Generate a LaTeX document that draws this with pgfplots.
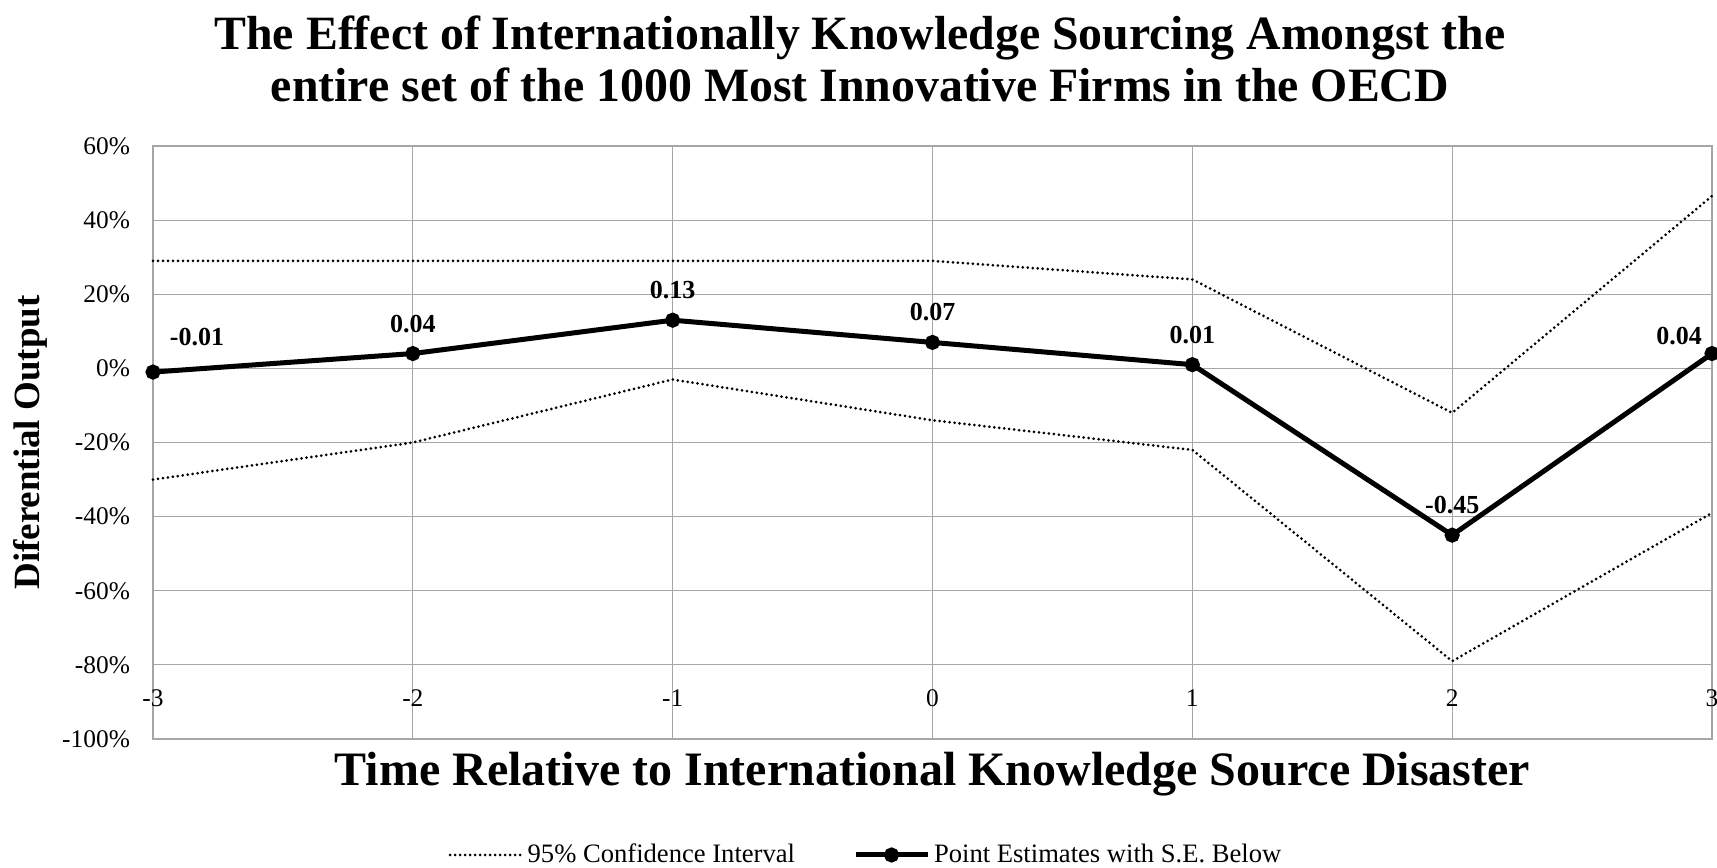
\documentclass[border=0pt]{standalone}
\usepackage{fontspec}
\setmainfont{Liberation Serif}
\usepackage{pgfplots}
\usepackage{pgfplotstable}
\pgfplotsset{compat=1.18}

\definecolor{gridgray}{RGB}{166,166,166}

% 95% confidence bounds (in percent)
\pgfplotstableread{
x upper lower
-3 29 -30
-2 29 -20
-1 29 -3
0 29 -14
1 24 -22
2 -12 -79
3 46.5 -39
}\ci

% point estimates (in percent), their printed values and label offsets (pt)
\pgfplotstableread{
x y lab dx dy
-3 -1 -0.01 22 17.5
-2 4 0.04 0 15
-1 13 0.13 0 15
0 7 0.07 0 15
1 1 0.01 0 15
2 -45 -0.45 0 15
3 4 0.04 -16.5 9
}\est

\begin{document}
\begin{tikzpicture}
\begin{axis}[
  at={(76.5pt,64pt)}, anchor=south west,
  scale only axis, width=779.5pt, height=296.5pt,
  xmin=-3, xmax=3, ymin=-100, ymax=60,
  xtick={-3,...,3}, ytick={-100,-80,...,60},
  major tick length=0pt,
  grid=major,
  major grid style={gridgray, line width=0.6pt},
  axis line style={gridgray, line width=0.6pt},
  /pgf/number format/assume math mode=true,
  yticklabel={\pgfmathprintnumber{\tick}\%},
  tick label style={font=\fontsize{12.7}{14}\selectfont},
  y tick label style={xshift=-8pt},
  x tick label style={yshift=28pt},
  xlabel={Time Relative to International Knowledge Source Disaster},
  xlabel style={at={(axis description cs:0.5,0)}, anchor=center, yshift=-17.5pt,
    font=\bfseries\fontsize{24}{28}\selectfont},
  ylabel={Diferential Output},
  ylabel style={at={(axis description cs:-0.0789,0.5)}, anchor=center,
    font=\bfseries\fontsize{18.5}{22}\selectfont},
  legend columns=2,
  legend style={draw=none, fill=none, at={(axis description cs:0.458,-0.1956)}, anchor=center,
    font=\fontsize{13.3}{15}\selectfont, /tikz/column 2/.style={column sep=27pt},
    nodes={inner xsep=2pt}},
  legend image code/.code={\draw[mark repeat=2,mark phase=2,#1] plot coordinates {(0pt,0pt) (18pt,0pt) (36pt,0pt)};},
  clip=false,
]
\addplot[black, line width=1.5pt, line cap=round, dash pattern=on 0pt off 2.5pt, no markers]
  table[x=x, y=upper] {\ci};
\addlegendentry{95\% Confidence Interval}
\addplot[black, line width=1.5pt, line cap=round, dash pattern=on 0pt off 2.5pt, no markers, forget plot]
  table[x=x, y=lower] {\ci};
\addplot[black, line width=2.5pt, mark=*, mark size=2.5pt,
  point meta=explicit symbolic,
  visualization depends on={\thisrow{dx} \as \dx},
  visualization depends on={\thisrow{dy} \as \dy},
  nodes near coords,
  nodes near coords style={anchor=center, xshift=\dx pt, yshift=\dy pt,
    font=\bfseries\fontsize{13}{15}\selectfont, text=black}]
  table[x=x, y=y, meta=lab] {\est};
\addlegendentry{Point Estimates with S.E. Below}
\end{axis}
\node[align=center, font=\bfseries\fontsize{23.9}{26.3}\selectfont] at (430pt,404pt)
  {The Effect of Internationally Knowledge Sourcing Amongst the\\entire set of the 1000 Most Innovative Firms in the OECD};
\pgfresetboundingbox
\path (0pt,0pt) rectangle (858.5pt,433.5pt);
\end{tikzpicture}
\end{document}
